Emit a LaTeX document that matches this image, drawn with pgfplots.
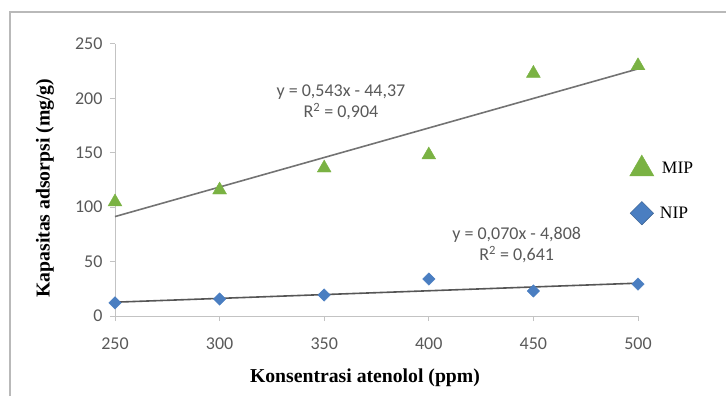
\documentclass[border=0pt]{standalone}
\usepackage{pgfplots}
\pgfplotsset{compat=1.18}
\usepackage{fontspec}
\setmainfont{Liberation Serif}
\newfontfamily\carlito{Carlito}
\definecolor{mipgreen}{RGB}{122,178,67}
\definecolor{nipblue}{RGB}{74,126,193}
\definecolor{nipedge}{RGB}{56,93,138}
\definecolor{txtgray}{RGB}{89,89,89}
\definecolor{axgray}{RGB}{195,195,195}
\definecolor{trendgray}{RGB}{115,115,115}
\begin{document}
\begin{tikzpicture}[x=1pt,y=1pt]
\path[use as bounding box] (0,0) rectangle (726,402);
\draw[gray!55, line width=1.2pt] (10,6) -- (10,390) -- (726,390);
\begin{axis}[
  at={(115pt,86pt)}, anchor=south west,
  scale only axis, width=523pt, height=272pt,
  xmin=250, xmax=500, ymin=0, ymax=250,
  xtick={250,300,350,400,450,500},
  ytick={0,50,100,150,200,250},
  axis x line*=bottom, axis y line*=left,
  axis line style={axgray, line width=1pt},
  tick style={axgray, line width=1pt},
  tick align=outside, major tick length=5pt,
  /pgf/number format/assume math mode=true,
  ticklabel style={font=\carlito\fontsize{18}{18}\selectfont, text=txtgray},
  xticklabel style={yshift=-13pt},
  yticklabel style={xshift=-4pt},
  clip=false,
  xlabel={\textbf{Konsentrasi atenolol (ppm)}},
  ylabel={\textbf{Kapasitas adsorpsi (mg/g)}},
  label style={font=\fontsize{19.7}{19.7}\selectfont},
  xlabel style={at={(axis description cs:0.478,-0.228)}, anchor=center},
  ylabel style={at={(axis description cs:-0.134,0.47)}, anchor=center, rotate=0},
  legend cell align=left,
  legend style={at={(axis description cs:0.978,0.60)}, anchor=north west,
    draw=none, fill=none, font=\fontsize{17.5}{17.5}\selectfont,
    row sep=24pt},
]
% trend lines
\addplot[trendgray, line width=1.6pt, forget plot] coordinates {(250,91.38) (500,227.13)};
\addplot[trendgray!75!black, line width=1.6pt, forget plot] coordinates {(250,12.69) (500,30.19)};
% data
\addplot[only marks, mark=triangle*, mark size=8pt, color=mipgreen, forget plot]
  coordinates {(250,104.8) (300,115.8) (350,136) (400,148) (450,223) (500,230)};
\addplot[only marks, mark=square*, mark size=4.4pt, mark options={rotate=45}, color=nipblue, forget plot]
  coordinates {(250,12) (300,15.6) (350,19.3) (400,34) (450,23) (500,29.4)};
% legend
\addlegendimage{only marks, mark=triangle*, mark size=14pt, color=mipgreen}
\addlegendentry{\hspace{6pt}MIP}
\addlegendimage{only marks, mark=square*, mark size=8.3pt, mark options={rotate=45, draw=nipedge, fill=nipblue}}
\addlegendentry{\hspace{4pt}NIP}
% annotations
\node[font=\carlito\fontsize{18}{21}\selectfont, text=txtgray, align=center]
  at (axis cs:358,196) {y = 0,543x - 44,37\\R\textsuperscript{2} = 0,904};
\node[font=\carlito\fontsize{18}{21}\selectfont, text=txtgray, align=center]
  at (axis cs:442,65) {y = 0,070x - 4,808\\R\textsuperscript{2} = 0,641};
\end{axis}
\end{tikzpicture}
\end{document}
